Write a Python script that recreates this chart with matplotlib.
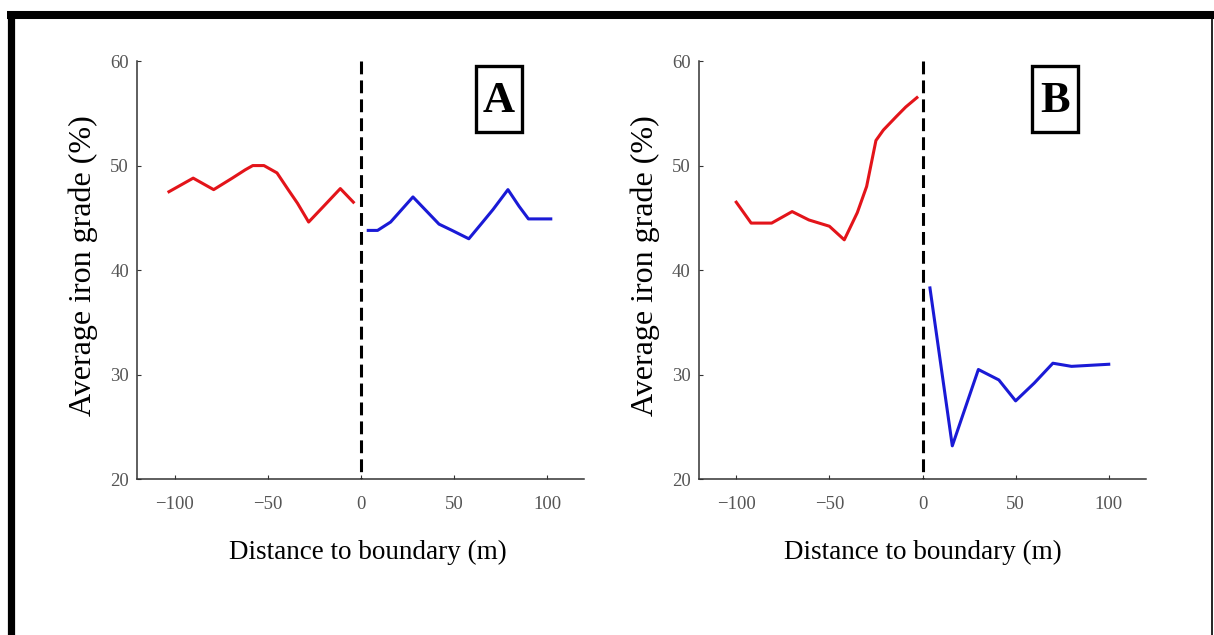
import numpy as np
import matplotlib
matplotlib.use("Agg")
import matplotlib.pyplot as plt
from matplotlib.lines import Line2D
from matplotlib.patches import Rectangle

plt.rcParams["font.family"] = ["Liberation Serif", "DejaVu Serif"]

# panel A
a_red_x = [-103, -90, -79, -69, -62, -58, -52, -45, -39, -34, -28, -20, -11, -4]
a_red_y = [47.5, 48.8, 47.7, 48.8, 49.6, 50.0, 50.0, 49.3, 47.7, 46.4, 44.6, 46.1, 47.8, 46.5]
a_blue_x = [4, 9, 16, 28, 35, 42, 49, 58, 65, 71, 79, 85, 90, 102]
a_blue_y = [43.8, 43.8, 44.6, 47.0, 45.7, 44.4, 43.8, 43.0, 44.5, 45.8, 47.7, 46.1, 44.9, 44.9]

# panel B
b_red_x = [-100, -92, -81, -70, -61, -50, -42, -35, -30, -25, -21, -14, -9, -3]
b_red_y = [46.5, 44.5, 44.5, 45.6, 44.8, 44.2, 42.9, 45.5, 48.0, 52.4, 53.4, 54.7, 55.6, 56.5]
b_blue_x = [4, 16, 30, 41, 50, 60, 70, 80, 100]
b_blue_y = [38.3, 23.2, 30.5, 29.5, 27.5, 29.2, 31.1, 30.8, 31.0]

panels = [
    ("A", a_red_x, a_red_y, a_blue_x, a_blue_y),
    ("B", b_red_x, b_red_y, b_blue_x, b_blue_y),
]

W, H = 1214, 635
fig = plt.figure(figsize=(W / 100, H / 100), dpi=100)

lefts = [137.3, 699]
tag_x = [74, 71]
for (tag, rx, ry, bx, by), left, tx in zip(panels, lefts, tag_x):
    ax = fig.add_axes([left / W, 1 - 479.3 / H, 447 / W, 418.3 / H])
    ax.plot(rx, ry, color="#e3141a", lw=2.2)
    ax.plot(bx, by, color="#1a1ad6", lw=2.2)
    ax.plot([0, 0], [60, 20], color="black", lw=2.2, dashes=(4.2, 2.0))
    ax.set_xlim(-120, 120)
    ax.set_ylim(20, 60)
    ax.set_xticks([-100, -50, 0, 50, 100])
    ax.set_yticks([20, 30, 40, 50, 60])
    for s in ["top", "right"]:
        ax.spines[s].set_visible(False)
    for s in ["left", "bottom"]:
        ax.spines[s].set_color("#333333")
        ax.spines[s].set_linewidth(1.1)
    ax.tick_params(direction="in", length=3, width=0.8, colors="#333333",
                   labelcolor="#555555", labelsize=13.5)
    ax.tick_params(axis="x", pad=12)
    ax.tick_params(axis="y", pad=6)
    ax.set_ylabel("Average iron grade (%)", fontsize=23)
    ax.yaxis.set_label_coords(-0.088, 0.51)
    ax.set_xlabel("Distance to boundary (m)", fontsize=19.5)
    ax.xaxis.set_label_coords(0.515 if tag == "A" else 0.5, -0.145)
    # boxed panel letter
    bw, bh = 46 / 1.866, 66 / 10.46
    ax.add_patch(Rectangle((tx - bw / 2, 56.4 - bh / 2), bw, bh, fill=False,
                           ec="black", lw=2.4, clip_on=False))
    ax.text(tx, 56.2, tag, fontsize=32, fontweight="bold", ha="center", va="center")

# outer frame (thick top/left, thin right)
fig.add_artist(Line2D([7 / W, 1], [1 - 15 / H, 1 - 15 / H], color="black",
                      lw=5.8, solid_capstyle="butt", transform=fig.transFigure))
fig.add_artist(Line2D([10.5 / W, 10.5 / W], [1 - 11 / H, 0], color="black",
                      lw=5.2, solid_capstyle="butt", transform=fig.transFigure))
fig.add_artist(Line2D([1212 / W, 1212 / W], [1 - 18 / H, 0], color="black",
                      lw=1.2, transform=fig.transFigure))

fig.savefig("out.png", dpi=100)
